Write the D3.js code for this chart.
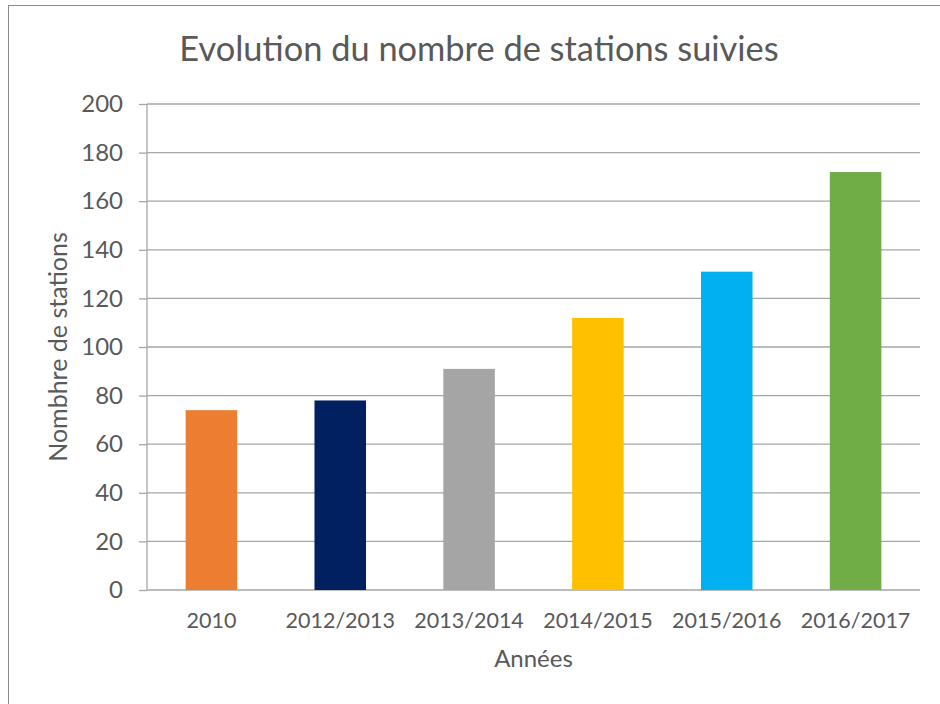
<!DOCTYPE html>
<html>
<head>
<meta charset="utf-8">
<script src="https://cdn.jsdelivr.net/npm/d3@7"></script>
<style>
  html, body { margin: 0; padding: 0; background: #fff; }
  svg { display: block; font-family: Lato, "Open Sans", sans-serif; }
</style>
</head>
<body>
<div id="chart"></div>
<script>
var categories = ["2010", "2012/2013", "2013/2014", "2014/2015", "2015/2016", "2016/2017"];
var stations = [74, 78, 91, 112, 131, 172];
var barColors = ["#ED7D31", "#002060", "#A5A5A5", "#FFC000", "#00B0F0", "#70AD47"];
var yTicks = [0, 20, 40, 60, 80, 100, 120, 140, 160, 180, 200];

var chartTitle = "Evolution du nombre de stations suivies";
var xTitle = "Années";
var yTitle = "Nombhre de stations";

var width = 940, height = 704;
var margin = {top: 104, right: 20, bottom: 114, left: 147};
var plotW = width - margin.left - margin.right,
    plotH = height - margin.top - margin.bottom;

var textColor = "#595959",
    gridColor = "#a6a6a6",
    fontStack = "Lato, 'Open Sans', sans-serif";

var svg = d3.select("#chart")
    .append("svg")
    .attr("width", width)
    .attr("height", height);

// chart frame (cropped on right/bottom like the screenshot)
svg.append("rect")
    .attr("x", 8.5)
    .attr("y", 5.5)
    .attr("width", 1000)
    .attr("height", 1000)
    .attr("fill", "#fff")
    .attr("stroke", "#8c8c8c")
    .attr("stroke-width", 1);

var g = svg.append("g")
    .attr("transform", "translate(" + margin.left + "," + margin.top + ")");

var x = d3.scaleBand()
    .domain(categories)
    .range([0, plotW])
    .paddingInner(0.6)
    .paddingOuter(0.3);

var y = d3.scaleLinear()
    .domain([0, 200])
    .range([plotH, 0]);

// gridlines
g.append("g")
    .selectAll("line")
    .data(yTicks)
    .join("line")
    .attr("x1", 0)
    .attr("x2", plotW)
    .attr("y1", function (d) { return y(d); })
    .attr("y2", function (d) { return y(d); })
    .attr("stroke", gridColor)
    .attr("stroke-width", 1.3);

// bars
g.append("g")
    .selectAll("rect")
    .data(stations)
    .join("rect")
    .attr("x", function (d, i) { return x(categories[i]); })
    .attr("y", function (d) { return y(d); })
    .attr("width", x.bandwidth())
    .attr("height", function (d) { return plotH - y(d); })
    .attr("fill", function (d, i) { return barColors[i]; });

// y axis
var yAxis = g.append("g")
    .call(d3.axisLeft(y).tickValues(yTicks).tickSize(8).tickPadding(16))
    .attr("font-family", fontStack)
    .attr("font-size", 24);
yAxis.select(".domain").attr("stroke", gridColor).attr("stroke-width", 1.3)
    .attr("d", "M0," + y(200) + "V" + y(0));
yAxis.selectAll(".tick line").attr("stroke", gridColor).attr("stroke-width", 1.3);
yAxis.selectAll(".tick text").attr("fill", textColor);

// x axis
var xAxis = g.append("g")
    .attr("transform", "translate(0," + plotH + ")")
    .call(d3.axisBottom(x).tickSize(0).tickPadding(23))
    .attr("font-family", fontStack)
    .attr("font-size", 21.5);
xAxis.select(".domain").remove();
xAxis.selectAll(".tick text").attr("fill", textColor);

// titles
svg.append("text")
    .attr("x", 479)
    .attr("y", 61)
    .attr("text-anchor", "middle")
    .attr("fill", textColor)
    .style("font-size", "34.4px")
    .text(chartTitle);

svg.append("text")
    .attr("x", margin.left + plotW / 2)
    .attr("y", 667)
    .attr("text-anchor", "middle")
    .attr("fill", textColor)
    .style("font-size", "24px")
    .text(xTitle);

svg.append("text")
    .attr("transform", "translate(67," + (margin.top + plotH / 2) + ") rotate(-90)")
    .attr("text-anchor", "middle")
    .attr("fill", textColor)
    .style("font-size", "25px")
    .text(yTitle);
</script>
</body>
</html>
